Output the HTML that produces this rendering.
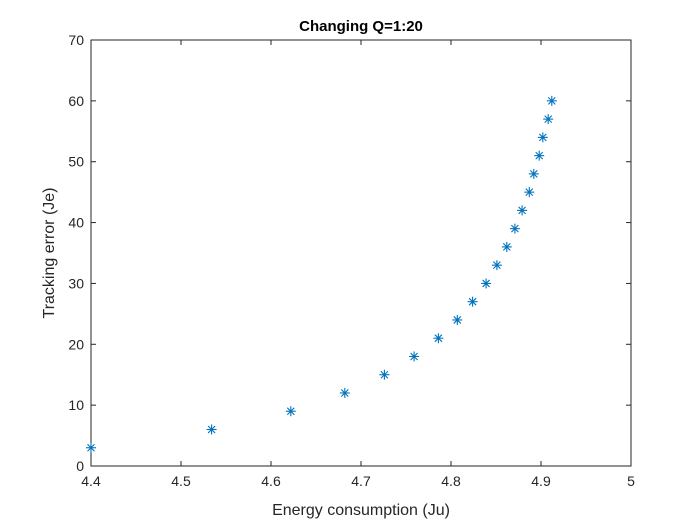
<!DOCTYPE html>
<html><head><meta charset="utf-8"><style>body{margin:0;background:#fff}svg{display:block;font-family:"Liberation Sans",sans-serif}</style></head>
<body>
<svg id="chart" width="700" height="525">
<rect x="0" y="0" width="700" height="525" fill="#ffffff"/>
<rect x="91" y="40" width="540" height="426" fill="#fff" stroke="#262626" stroke-width="1"/>
<text x="361" y="31" text-anchor="middle" font-size="15" font-weight="bold" fill="#000">Changing Q=1:20</text>
<text x="361" y="515" text-anchor="middle" font-size="16" fill="#262626">Energy consumption (Ju)</text>
<text transform="translate(54,253) rotate(-90)" text-anchor="middle" font-size="16" fill="#262626">Tracking error (Je)</text>
<g id="ticks"></g><g id="marks"></g>
</svg>
<script>
const xTicks=[4.4,4.5,4.6,4.7,4.8,4.9,5];
const xTickLabels=["4.4","4.5","4.6","4.7","4.8","4.9","5"];
const yTicks=[0,10,20,30,40,50,60,70];
const yTickLabels=["0","10","20","30","40","50","60","70"];
const energy=[4.400,4.534,4.622,4.682,4.726,4.759,4.786,4.807,4.824,4.839,4.851,4.862,4.871,4.879,4.887,4.892,4.898,4.902,4.908,4.912];
const trackErr=[3,6,9,12,15,18,21,24,27,30,33,36,39,42,45,48,51,54,57,60];
const NS="http://www.w3.org/2000/svg";
const L=91,R=631,T=40,B=466;
const sx=v=>L+(v-4.4)/(0.6)*(R-L);
const sy=v=>B-(v/70)*(B-T);
function mk(tag,attrs,parent){const e=document.createElementNS(NS,tag);for(const k in attrs)e.setAttribute(k,attrs[k]);parent.appendChild(e);return e;}
const tg=document.getElementById('ticks');
xTicks.forEach((v,i)=>{const x=sx(v);
 const a=mk('line',{x1:x,x2:x,y1:B,y2:B-5,stroke:'#262626'},tg);
 
 
 const b=mk('line',{x1:x,x2:x,y1:T,y2:T+5,stroke:'#262626'},tg);
 
 
 const t=mk('text',{x:x,y:B+20,'text-anchor':'middle','font-size':14,fill:'#262626'},tg);t.textContent=xTickLabels[i];
 
 
});
yTicks.forEach((v,i)=>{const y=sy(v);
 const a=mk('line',{x1:L,x2:L+5,y1:y,y2:y,stroke:'#262626'},tg);
 
 
 const b=mk('line',{x1:R,x2:R-5,y1:y,y2:y,stroke:'#262626'},tg);
 
 
 const t=mk('text',{x:L-7,y:y+5,'text-anchor':'end','font-size':14,fill:'#262626'},tg);t.textContent=yTickLabels[i];
 
 
});
const mg=document.getElementById('marks');
energy.forEach((v,i)=>{const x=sx(v),y=sy(trackErr[i]),r=5,d=3.5;
 const g=mk('g',{stroke:'#0072BD','stroke-width':1.1},mg);
 
 
 mk('line',{x1:x-r,x2:x+r,y1:y,y2:y},g);
 mk('line',{x1:x,x2:x,y1:y-r,y2:y+r},g);
 mk('line',{x1:x-d,x2:x+d,y1:y-d,y2:y+d},g);
 mk('line',{x1:x-d,x2:x+d,y1:y+d,y2:y-d},g);
});
</script>
</body></html>
